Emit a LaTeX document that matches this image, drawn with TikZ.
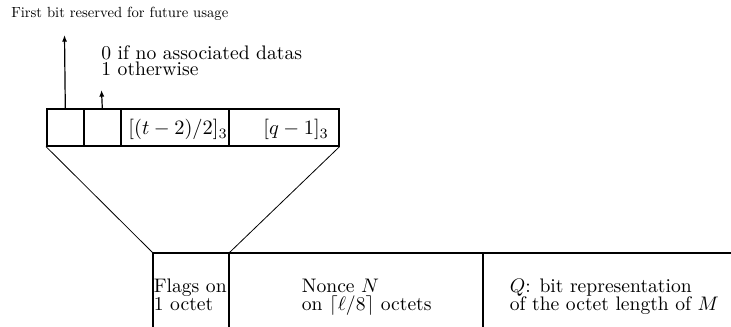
\documentclass[tikz,border=0pt]{standalone}
\usetikzlibrary{arrows.meta}
\begin{document}
\begin{tikzpicture}[x=0.75pt,y=-0.75pt,
  every node/.style={font=\fontsize{10}{12}\selectfont},
  cell/.style={draw,line width=1.2pt,minimum height=27.75pt,inner sep=0pt,anchor=north west},
  txt/.style={inner sep=0pt,anchor=base west,scale=1.47},
  mtxt/.style={inner sep=0pt,anchor=base west,scale=1.53},
  small/.style={inner sep=0pt,anchor=base west,scale=1.1},
  arr/.style={line width=0.9pt,-{Latex[length=5pt,width=3.8pt]}},
  funnel/.style={line width=0.6pt},
  thickrule/.style={line width=1.35pt},
  thinrule/.style={line width=0.85pt}]
\useasboundingbox (0,0) rectangle (731,327);
% top cells
\node[cell,minimum width=27.75pt] (c1) at (46,108) {};
\node[cell,minimum width=27.75pt] (c2) at (83,108) {};
\node[cell,minimum width=81pt] (c3) at (120,108) {};
\node[cell,minimum width=82.5pt] (c4) at (228,108) {};
\node[mtxt] (t3) at (128,135) {$[(t-2)/2]_3$};
\node[mtxt] (t4) at (263,135) {$[q-1]_3$};
% labels and arrows
\node[small] (lab1) at (11,18) {First bit reserved for future usage};
\node[txt] (lab2a) at (101,60) {0 if no associated datas};
\node[txt] (lab2b) at (101,75.5) {1 otherwise};
\coordinate (a1) at (64.5,35);
\coordinate (a2) at (101.5,90);
\draw[arr] (c1.north) -- (a1);
\draw[arr] (c2.north) -- (a2);
% lower structure
\coordinate (l1) at (153,253);
\coordinate (l2) at (229,253);
\coordinate (l3) at (483,253);
\coordinate (l4) at (731,253);
\coordinate (b1) at (153,327);
\coordinate (b2) at (229,327);
\coordinate (b3) at (483,327);
\draw[thickrule] (l1) -- (l4);
\draw[thickrule] (l1) -- (b1);
\draw[thickrule] (l2) -- (b2);
\draw[thinrule] (l3) -- (b3);
\draw[funnel] (c1.south west) -- (l1);
\draw[funnel] (c4.south east) -- (l2);
\node[txt] (f1) at (153.5,293) {Flags on};
\node[txt] (f2) at (153.5,310.5) {1 octet};
\node[txt] (n1) at (301.5,293) {Nonce $N$};
\node[txt] (n2) at (301.5,310.5) {on $\lceil\ell/8\rceil$ octets};
\node[txt] (q1) at (509.5,293) {$Q$: bit representation};
\node[txt] (q2) at (509.5,310.5) {of the octet length of $M$};
\end{tikzpicture}
\end{document}
